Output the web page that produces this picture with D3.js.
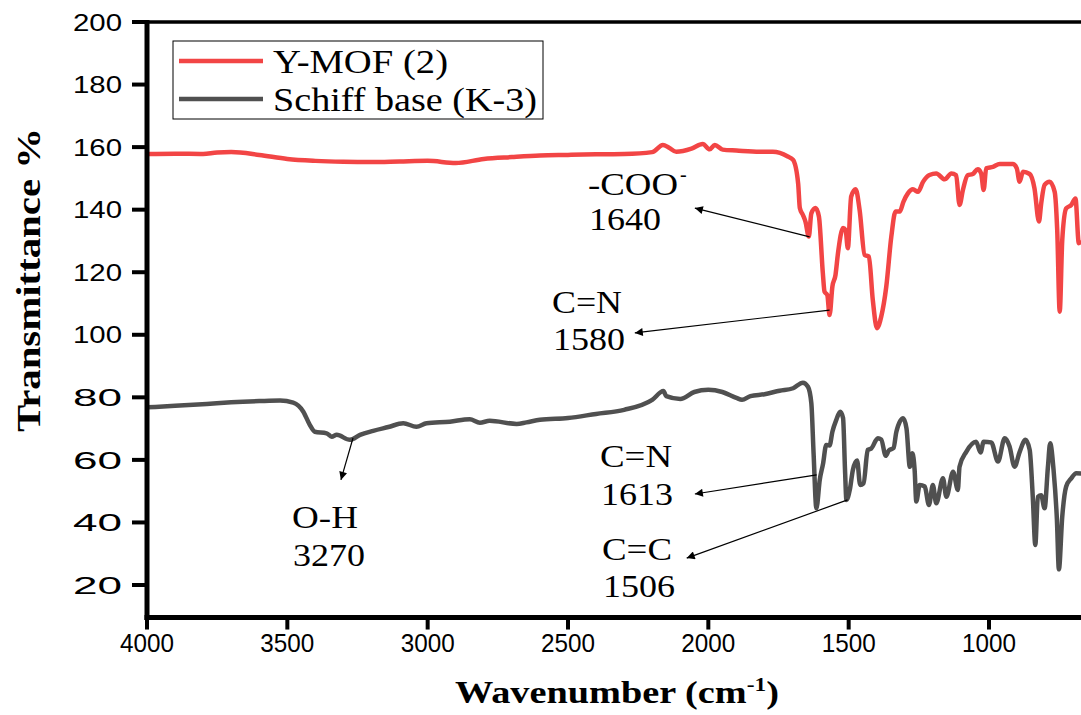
<!DOCTYPE html>
<html>
<head>
<meta charset="utf-8">
<script src="https://cdn.jsdelivr.net/npm/d3@7.9.0/dist/d3.min.js"></script>
<style>
  html, body { margin: 0; padding: 0; background: #fff; }
  svg { display: block; }
  .tick-y, .tick-x { font-family: "Liberation Sans", Arial, Helvetica, sans-serif; }
  .serif { font-family: "Times New Roman", "Liberation Serif", Times, Tinos, "Nimbus Roman", "DejaVu Serif Condensed", serif; }
</style>
</head>
<body>
<svg id="chart" width="1081" height="715"></svg>
<script>
// FTIR spectra (wavenumber in cm-1, transmittance %)
const mofWn = [4000, 3900, 3800, 3750, 3700, 3600, 3500, 3400, 3300, 3200, 3100, 3000, 2900, 2800, 2700, 2600, 2500, 2400, 2300, 2200, 2162, 2140, 2114, 2060, 2020, 1995, 1977, 1949, 1900, 1817, 1770, 1717, 1698, 1680, 1674, 1663, 1654, 1642, 1633, 1618, 1606, 1592, 1586, 1576, 1568, 1558, 1547, 1538, 1520, 1511, 1503, 1491, 1475, 1461, 1443, 1428, 1414, 1399, 1384, 1366, 1348, 1333, 1318, 1305, 1289, 1271, 1253, 1235, 1212, 1188, 1158, 1134, 1117, 1105, 1093, 1076, 1058, 1040, 1028, 1019, 1010, 986, 962, 915, 901, 891, 879, 855, 838, 822, 814, 802, 784, 766, 757, 748, 739, 725, 707, 692, 680, 670];
const mofT  = [157.8, 157.9, 157.8, 158.3, 158.4, 157.5, 156.2, 155.6, 155.3, 155.2, 155.4, 155.6, 154.9, 156.2, 156.8, 157.3, 157.5, 157.7, 157.8, 158.4, 160.7, 159.8, 158.5, 159.5, 161.0, 159.3, 160.7, 159.2, 158.9, 158.5, 158.5, 157.0, 155.9, 148.4, 140.5, 138.3, 136.2, 131.4, 138.8, 140.5, 137.8, 119.7, 113.8, 112.7, 106.3, 115.4, 119.1, 126.1, 134.1, 133.5, 127.7, 144.2, 146.5, 139.9, 125.5, 125.0, 111.1, 102.1, 105.8, 115.4, 131.4, 139.4, 139.4, 142.5, 145.2, 146.5, 145.7, 148.9, 151.1, 151.6, 149.7, 151.6, 151.0, 141.5, 146.3, 151.0, 151.4, 152.9, 151.6, 146.3, 153.2, 153.7, 154.6, 154.6, 153.2, 148.9, 152.1, 151.4, 146.8, 136.2, 142.0, 147.9, 148.9, 145.7, 133.5, 107.4, 130.3, 140.4, 141.5, 143.6, 129.3, 130.0];

const schiffWn = [4000, 3900, 3787, 3700, 3600, 3526, 3479, 3443, 3420, 3402, 3360, 3342, 3324, 3277, 3241, 3194, 3140, 3087, 3040, 3004, 2921, 2850, 2814, 2779, 2683, 2648, 2600, 2500, 2400, 2300, 2200, 2160, 2150, 2100, 2050, 2000, 1950, 1900, 1880, 1850, 1800, 1746, 1698, 1663, 1645, 1633, 1625, 1615, 1603, 1591, 1580, 1568, 1558, 1544, 1530, 1520, 1513, 1508, 1496, 1485, 1470, 1459, 1447, 1432, 1420, 1396, 1384, 1368, 1357, 1340, 1330, 1306, 1294, 1282, 1273, 1265, 1259, 1247, 1229, 1214, 1200, 1188, 1164, 1152, 1128, 1111, 1105, 1081, 1046, 1030, 1019, 992, 968, 944, 927, 909, 891, 870, 855, 844, 835, 826, 814, 802, 790, 782, 770, 758, 751, 739, 725, 707, 689, 670];
const schiffT  = [76.8, 77.3, 77.9, 78.4, 78.8, 79.0, 78.3, 75.4, 71.2, 69.0, 68.5, 67.4, 68.0, 66.4, 68.0, 69.3, 70.5, 71.7, 70.6, 71.7, 72.2, 73.0, 71.9, 72.5, 71.5, 72.0, 72.8, 73.4, 74.7, 76.0, 79.2, 82.0, 80.4, 79.5, 81.7, 82.4, 81.7, 79.8, 79.2, 80.4, 81.0, 82.1, 82.9, 84.7, 83.4, 78.1, 62.1, 44.5, 53.6, 58.9, 64.8, 64.6, 69.0, 72.8, 75.4, 73.4, 56.8, 47.2, 50.4, 56.8, 59.8, 52.0, 52.5, 63.2, 63.6, 66.9, 66.5, 61.3, 63.0, 63.8, 69.0, 73.3, 70.1, 57.8, 62.1, 56.8, 46.7, 52.0, 51.5, 45.6, 52.0, 46.1, 54.1, 48.2, 56.2, 50.4, 57.8, 62.6, 65.8, 62.4, 65.8, 65.6, 59.5, 66.9, 64.4, 57.8, 62.5, 66.4, 63.2, 48.2, 32.8, 48.2, 48.7, 44.5, 57.8, 65.3, 56.8, 40.8, 25.0, 41.9, 51.5, 54.1, 55.7, 55.6];

const seriesNames = ['Y-MOF (2)', 'Schiff base (K-3)'];
const seriesColors = ['#f24545', '#505050'];

const xTicks = [4000, 3500, 3000, 2500, 2000, 1500, 1000];
const yTicks = [20, 40, 60, 80, 100, 120, 140, 160, 180, 200];

// peak labels: tail on the band, head near the text
const peakLabels = [
  { name: '-COO', sup: '-', num: '1640', from: [1639, 131.3], to: [2048, 140.5], tx: 588, ty: 195, ny: 230, w: 90 },
  { name: 'C=N', num: '1580', from: [1568, 107.9], to: [2262, 100.6], tx: 552, ty: 313, ny: 350, w: 70 },
  { name: 'C=N', num: '1613', from: [1614, 55.2], to: [2048, 49.1], tx: 600, ty: 467, ny: 505, w: 72 },
  { name: 'C=C', num: '1506', from: [1504, 47.2], to: [2077, 28.6], tx: 602, ty: 560, ny: 597, w: 70 },
  { name: 'O-H', num: '3270', from: [3266, 67.0], to: [3309, 53.6], tx: 292, ty: 528, ny: 566, w: 66 }
];

const svg = d3.select('#chart');
const W = 1081, H = 715;

const x = d3.scaleLinear().domain([4000, 1000]).range([147, 989]);
const y = d3.scaleLinear().domain([200, 20]).range([22, 585]);
const yBottom = y(9.6);

svg.append('defs').append('clipPath').attr('id', 'plot')
  .append('rect').attr('x', 147).attr('y', 22).attr('width', W - 147).attr('height', yBottom - 22);

const marker = svg.select('defs').append('marker')
  .attr('id', 'arr').attr('viewBox', '0 0 10 10').attr('refX', 10).attr('refY', 5)
  .attr('markerWidth', 16).attr('markerHeight', 8).attr('markerUnits', 'userSpaceOnUse')
  .attr('orient', 'auto');
marker.append('path').attr('d', 'M0,0 L10,5 L0,10 Z').attr('fill', '#000');

// curves
const line = d3.line().x(d => x(d[0])).y(d => y(d[1])).curve(d3.curveMonotoneX);
const plot = svg.append('g').attr('clip-path', 'url(#plot)');
[[mofWn, mofT], [schiffWn, schiffT]].forEach(([wn, t], i) => {
  plot.append('path')
    .datum(wn.map((v, j) => [v, t[j]]))
    .attr('d', line)
    .attr('fill', 'none')
    .attr('stroke', seriesColors[i])
    .attr('stroke-width', 4.5)
    .attr('stroke-linejoin', 'round');
});

// frame
svg.append('line').attr('x1', 147).attr('x2', W).attr('y1', 22).attr('y2', 22)
  .attr('stroke', '#000').attr('stroke-width', 3.5);
svg.append('line').attr('x1', 144.5).attr('x2', W).attr('y1', yBottom).attr('y2', yBottom)
  .attr('stroke', '#000').attr('stroke-width', 5);
svg.append('line').attr('x1', 147).attr('x2', 147).attr('y1', 20).attr('y2', yBottom + 2.5)
  .attr('stroke', '#000').attr('stroke-width', 5);

// y axis ticks
const gy = svg.append('g');
yTicks.forEach(v => {
  gy.append('line').attr('x1', 132).attr('x2', 147).attr('y1', y(v)).attr('y2', y(v))
    .attr('stroke', '#000').attr('stroke-width', 4);
  gy.append('text').attr('class', 'tick-y')
    .attr('x', 122).attr('y', y(v)).attr('dy', '0.36em')
    .attr('text-anchor', 'end').attr('font-size', 24)
    .attr('textLength', 49).attr('lengthAdjust', 'spacingAndGlyphs')
    .text(v);
});

// x axis ticks
const gx = svg.append('g');
xTicks.forEach(v => {
  gx.append('line').attr('x1', x(v)).attr('x2', x(v)).attr('y1', yBottom).attr('y2', yBottom + 12)
    .attr('stroke', '#000').attr('stroke-width', 4);
  gx.append('text').attr('class', 'tick-x')
    .attr('x', x(v)).attr('y', 652).attr('text-anchor', 'middle').attr('font-size', 26)
    .attr('textLength', 54).attr('lengthAdjust', 'spacingAndGlyphs')
    .text(v);
});

// axis titles
const xt = svg.append('text').attr('class', 'serif')
  .attr('x', 617).attr('y', 703).attr('text-anchor', 'middle')
  .attr('font-size', 31).attr('font-weight', 'bold')
  .attr('textLength', 324).attr('lengthAdjust', 'spacingAndGlyphs');
xt.append('tspan').text('Wavenumber (cm');
xt.append('tspan').attr('font-size', 19).attr('dy', -12).text('-1');
xt.append('tspan').attr('dy', 12).text(')');

svg.append('text').attr('class', 'serif')
  .attr('transform', 'translate(40,280) rotate(-90)')
  .attr('text-anchor', 'middle').attr('font-size', 33).attr('font-weight', 'bold')
  .attr('textLength', 304).attr('lengthAdjust', 'spacingAndGlyphs')
  .text('Transmittance %');

// legend
const lg = svg.append('g');
lg.append('rect').attr('x', 173).attr('y', 41).attr('width', 370).attr('height', 78)
  .attr('fill', '#fff').attr('stroke', '#000').attr('stroke-width', 1);
seriesNames.forEach((name, i) => {
  const ly = 61 + i * 38;
  lg.append('line').attr('x1', 179).attr('x2', 263).attr('y1', ly).attr('y2', ly)
    .attr('stroke', seriesColors[i]).attr('stroke-width', 4.5);
  lg.append('text').attr('class', 'serif')
    .attr('x', 273).attr('y', ly + 12).attr('font-size', 33)
    .attr('textLength', i === 0 ? 175 : 264).attr('lengthAdjust', 'spacingAndGlyphs')
    .text(name);
});

// peak annotations
const ann = svg.append('g');
peakLabels.forEach(p => {
  ann.append('line')
    .attr('x1', x(p.from[0])).attr('y1', y(p.from[1]))
    .attr('x2', x(p.to[0])).attr('y2', y(p.to[1]))
    .attr('stroke', '#000').attr('stroke-width', 1.2)
    .attr('marker-end', 'url(#arr)');
  ann.append('text').attr('class', 'serif')
    .attr('x', p.tx).attr('y', p.ty).attr('font-size', 31)
    .attr('textLength', p.w).attr('lengthAdjust', 'spacingAndGlyphs')
    .text(p.name);
  if (p.sup) {
    ann.append('text').attr('class', 'serif')
      .attr('x', p.tx + p.w + 2).attr('y', p.ty - 14).attr('font-size', 20)
      .text(p.sup);
  }
  ann.append('text').attr('class', 'serif')
    .attr('x', p.tx + 1).attr('y', p.ny).attr('font-size', 31)
    .attr('textLength', 72).attr('lengthAdjust', 'spacingAndGlyphs')
    .text(p.num);
});
</script>
</body>
</html>
